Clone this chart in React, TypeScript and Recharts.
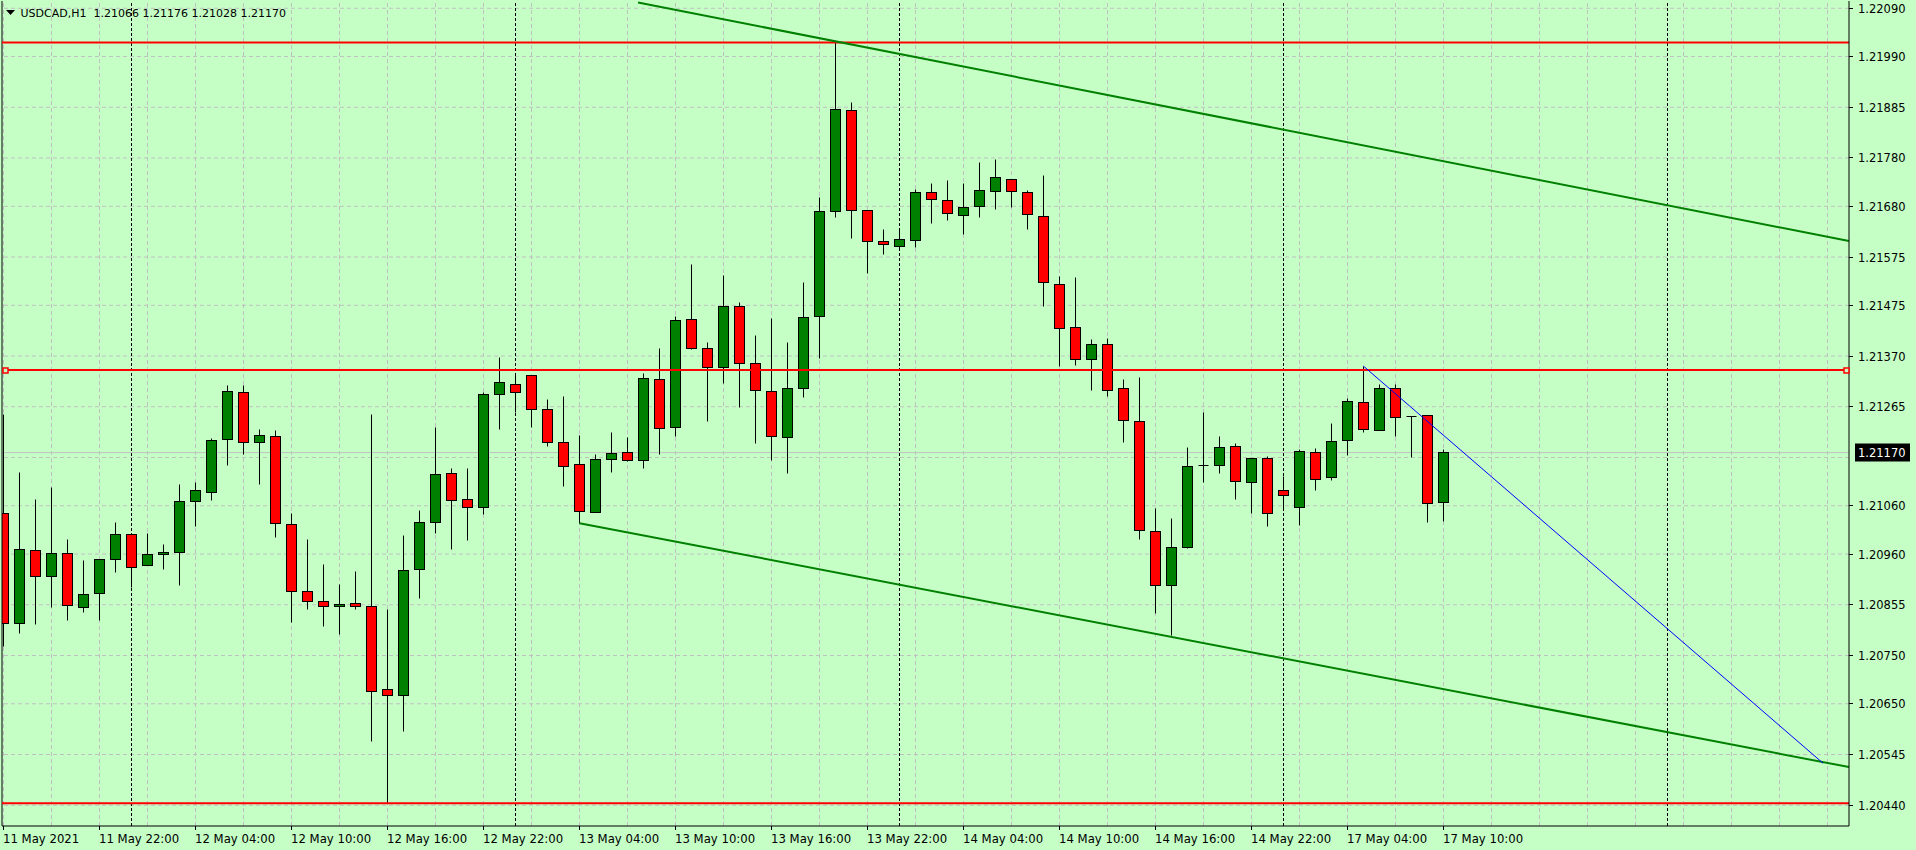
import { Bar, ComposedChart, ReferenceDot, ReferenceLine, XAxis, YAxis } from "recharts";

// USDCAD H1, bars 0..90 (11 May 16:00 -> 17 May 10:00)
const opens = [
  1.21045, 1.20816, 1.20968, 1.20913, 1.20961, 1.2085, 1.20878, 1.20949, 1.21001, 1.20937,
  1.20959, 1.20964, 1.21069, 1.21088, 1.21197, 1.21295, 1.2119, 1.21204, 1.21021, 1.20883,
  1.20862, 1.20852, 1.20858, 1.20852, 1.2068, 1.20667, 1.20928, 1.21026, 1.21127, 1.21073,
  1.21057, 1.21291, 1.21311, 1.2133, 1.2126, 1.21191, 1.21146, 1.21046, 1.21156, 1.21171,
  1.21154, 1.21322, 1.21222, 1.21446, 1.21386, 1.21347, 1.21473, 1.21355, 1.21297, 1.21202,
  1.21303, 1.21452, 1.2167, 1.21879, 1.21672, 1.21608, 1.21597, 1.2161, 1.21709, 1.21692,
  1.21661, 1.2168, 1.21711, 1.21736, 1.21709, 1.21659, 1.21519, 1.21429, 1.21363, 1.21394,
  1.21303, 1.21235, 1.21007, 1.20895, 1.20974, 1.21143, 1.21144, 1.21183, 1.21108, 1.21158,
  1.21092, 1.21057, 1.21171, 1.21119, 1.21195, 1.21274, 1.21216, 1.21303, 1.21245, 1.21247,
  1.21066,
];
const highs = [
  1.21248, 1.21129, 1.21073, 1.21098, 1.2099, 1.20947, 1.20949, 1.21026, 1.21001, 1.21003,
  1.20979, 1.21105, 1.21108, 1.212, 1.2131, 1.2131, 1.21217, 1.21215, 1.21045, 1.20991,
  1.20939, 1.20898, 1.20923, 1.21248, 1.20846, 1.20999, 1.2105, 1.21221, 1.21137, 1.21137,
  1.21295, 1.21366, 1.21333, 1.2133, 1.2128, 1.21287, 1.21206, 1.21166, 1.21212, 1.21202,
  1.21333, 1.21386, 1.21452, 1.2156, 1.21398, 1.21537, 1.21481, 1.21413, 1.21448, 1.21398,
  1.21523, 1.21699, 1.22019, 1.21895, 1.21672, 1.21632, 1.2163, 1.21715, 1.21728, 1.21734,
  1.21728, 1.21771, 1.21777, 1.21736, 1.21713, 1.21744, 1.21535, 1.21533, 1.21405, 1.21407,
  1.21322, 1.21326, 1.21055, 1.21034, 1.21181, 1.21254, 1.21204, 1.21189, 1.21158, 1.21162,
  1.21121, 1.21177, 1.21179, 1.21231, 1.21282, 1.21349, 1.21311, 1.21311, 1.21245, 1.21247,
  1.21176,
];
const lows = [
  1.20768, 1.20795, 1.20814, 1.2085, 1.20822, 1.2084, 1.20823, 1.20921, 1.2089, 1.20937,
  1.20927, 1.20894, 1.21017, 1.2107, 1.21143, 1.21166, 1.21105, 1.20994, 1.20818, 1.20845,
  1.20809, 1.20793, 1.20845, 1.20571, 1.20444, 1.20592, 1.20867, 1.21003, 1.20969, 1.20988,
  1.21041, 1.21217, 1.21253, 1.21222, 1.21182, 1.21099, 1.21024, 1.21046, 1.21128, 1.21152,
  1.21137, 1.21166, 1.21203, 1.21384, 1.21234, 1.21313, 1.21264, 1.21189, 1.21154, 1.21127,
  1.21285, 1.21364, 1.21657, 1.21613, 1.2154, 1.2158, 1.21592, 1.21594, 1.21645, 1.21651,
  1.21622, 1.21657, 1.21674, 1.21678, 1.21632, 1.21473, 1.21348, 1.21351, 1.21299, 1.21286,
  1.2119, 1.2099, 1.20836, 1.20791, 1.20972, 1.21108, 1.21127, 1.21073, 1.21044, 1.21017,
  1.21055, 1.21019, 1.21091, 1.21113, 1.21164, 1.21212, 1.21216, 1.21203, 1.2116, 1.21026,
  1.21028,
];
const closes = [
  1.20816, 1.2097, 1.20913, 1.20961, 1.20853, 1.20876, 1.20949, 1.21001, 1.20932, 1.20959,
  1.20964, 1.21069, 1.21092, 1.21195, 1.21297, 1.21191, 1.21206, 1.21024, 1.20882, 1.20862,
  1.20852, 1.20856, 1.20852, 1.20676, 1.20667, 1.20926, 1.21026, 1.21125, 1.21071, 1.21057,
  1.21291, 1.21316, 1.21295, 1.2126, 1.21191, 1.21142, 1.21048, 1.21156, 1.21168, 1.21154,
  1.21324, 1.2122, 1.21444, 1.21386, 1.21347, 1.21473, 1.21355, 1.21299, 1.21204, 1.21303,
  1.2145, 1.2167, 1.21881, 1.21672, 1.21608, 1.21601, 1.21612, 1.21709, 1.21695, 1.21666,
  1.21678, 1.21713, 1.2174, 1.21711, 1.21664, 1.21523, 1.21427, 1.21363, 1.21394, 1.21299,
  1.21237, 1.21009, 1.20895, 1.20974, 1.21142, 1.21143, 1.21181, 1.21111, 1.21158, 1.21044,
  1.21082, 1.21173, 1.21115, 1.21193, 1.21276, 1.21218, 1.21303, 1.21243, 1.21245, 1.21065,
  1.2117,
];

const timeTicks = [0, 6, 12, 18, 24, 30, 36, 42, 48, 54, 60, 66, 72, 78, 84, 90];
const timeLabels = [
  "11 May 2021", "11 May 22:00", "12 May 04:00", "12 May 10:00", "12 May 16:00", "12 May 22:00",
  "13 May 04:00", "13 May 10:00", "13 May 16:00", "13 May 22:00", "14 May 04:00", "14 May 10:00",
  "14 May 16:00", "14 May 22:00", "17 May 04:00", "17 May 10:00",
];
const daySeparators = [8, 32, 56, 80, 104];

const priceTicks = [
  1.2209, 1.2199, 1.21885, 1.2178, 1.2168, 1.21575, 1.21475, 1.2137, 1.21265,
  1.2106, 1.2096, 1.20855, 1.2075, 1.2065, 1.20545, 1.2044,
];
const priceGrid = [...priceTicks, 1.2116];
const bidPrice = 1.2117;

const levels = [1.22019, 1.21341, 1.20444];
const selectedLevel = 1.21341;
const upperTrend = [{ bar: 39.66, price: 1.22102 }, { bar: 115.34, price: 1.21608 }];
const lowerTrend = [{ bar: 36, price: 1.21024 }, { bar: 115.34, price: 1.20519 }];
const blueTrend = [{ bar: 85, price: 1.21349 }, { bar: 113.72, price: 1.20527 }];

const X_MIN = -0.09375;
const X_MAX = 115.34375;
const Y_MIN = 1.20397;
const Y_MAX = 1.22105;
const AXIS_X = 1849;
const AXIS_Y = 826;

const candles = opens.map((o, i) => ({
  i,
  o,
  h: highs[i],
  l: lows[i],
  c: closes[i],
  range: [lows[i], highs[i]],
}));

const gridBars: number[] = [];
for (let k = 0; k <= 114; k += 3) gridBars.push(k);

const crisp = (v: number) => Math.round(v - 0.5) + 0.5;

function Candle(props: any) {
  const { x, y, width, height, payload } = props;
  if (!payload || x == null) return null;
  const { o, h, l, c } = payload;
  const top = Math.min(y, y + height);
  const bot = Math.max(y, y + height);
  const ppu = h !== l ? (bot - top) / (h - l) : 0;
  const yOf = (p: number) => top + (h - p) * ppu;
  const cx = crisp(x + width / 2);
  const yTop = crisp(yOf(Math.max(o, c)));
  const yBot = crisp(yOf(Math.min(o, c)));
  return (
    <g>
      <line x1={cx} x2={cx} y1={crisp(top)} y2={crisp(bot)} stroke="#000" strokeWidth={1} />
      {o === c ? (
        <line x1={cx - 5} x2={cx + 5} y1={yTop} y2={yTop} stroke="#000" strokeWidth={1} />
      ) : (
        <rect
          x={cx - 5}
          y={yTop}
          width={10}
          height={Math.max(yBot - yTop, 1)}
          fill={c > o ? "#008000" : "#ff0000"}
          stroke="#000"
          strokeWidth={1}
        />
      )}
    </g>
  );
}

function TimeTick(props: any) {
  const { x, payload } = props;
  const idx = timeTicks.indexOf(payload.value);
  const tx = crisp(x);
  return (
    <g>
      <line x1={tx} x2={tx} y1={AXIS_Y} y2={AXIS_Y + 4} stroke="#000" />
      <text
        x={tx - 0.5}
        y={AXIS_Y + 12}
        dominantBaseline="central"
        textAnchor="start"
        fontFamily='"Liberation Sans Narrow", "DejaVu Sans Condensed", "Liberation Sans", sans-serif'
        fontSize={13}
        fill="#000"
      >
        {timeLabels[idx]}
      </text>
    </g>
  );
}

function PriceTick(props: any) {
  const { y, payload } = props;
  const v = payload.value;
  const ty = crisp(y);
  if (v === bidPrice) {
    return (
      <g>
        <rect x={AXIS_X + 6} y={ty - 9} width={55} height={18} fill="#000" />
        <text
          x={AXIS_X + 9}
          y={ty}
          dominantBaseline="central"
          fontFamily='"DejaVu Sans", sans-serif'
          fontSize={11.5}
          fill="#ffffff"
        >
          {v.toFixed(5)}
        </text>
      </g>
    );
  }
  return (
    <g>
      <line x1={AXIS_X} x2={AXIS_X + 4} y1={ty} y2={ty} stroke="#000" />
      <text
        x={AXIS_X + 9}
        y={ty}
        dominantBaseline="central"
        fontFamily='"DejaVu Sans", sans-serif'
        fontSize={11.5}
        fill="#000"
      >
        {v.toFixed(5)}
      </text>
    </g>
  );
}

const anchorSquare = (p: any) => (
  <rect x={crisp(p.cx) - 2.5} y={crisp(p.cy) - 2.5} width={5} height={5} fill="#c6ffc6" stroke="#ff0000" strokeWidth={1.5} />
);

export default function App() {
  return (
    <div style={{ position: "absolute", left: 0, top: 0, width: 1916, height: 850, background: "#c6ffc6", overflow: "hidden" }}>
      <ComposedChart width={1916} height={850} data={candles} margin={{ top: 1, right: 0, bottom: 0, left: 2 }}>
        <XAxis
          dataKey="i"
          type="number"
          domain={[X_MIN, X_MAX]}
          allowDataOverflow
          ticks={timeTicks}
          interval={0}
          tick={<TimeTick />}
          tickLine={false}
          axisLine={{ stroke: "#000" }}
          height={24}
        />
        <YAxis
          orientation="right"
          type="number"
          domain={[Y_MIN, Y_MAX]}
          allowDataOverflow
          ticks={[...priceTicks, bidPrice]}
          interval={0}
          tick={<PriceTick />}
          tickLine={false}
          axisLine={{ stroke: "#000" }}
          width={67}
        />
        {gridBars.map((k) => (
          <ReferenceLine key={"gv" + k} x={k} stroke="#c0c0c0" strokeDasharray="4 3" zIndex={-50} />
        ))}
        {priceGrid.map((p) => (
          <ReferenceLine key={"gh" + p} y={p} stroke="#c0c0c0" strokeDasharray="4 3" zIndex={-50} />
        ))}
        {daySeparators.map((k) => (
          <ReferenceLine key={"sep" + k} x={k} stroke="#000" strokeDasharray="3 2" zIndex={-40} />
        ))}
        <ReferenceLine y={bidPrice} stroke="#c0c0c0" zIndex={-40} />
        <ReferenceLine x={X_MIN} stroke="#000" />
        <Bar dataKey="range" barSize={11} shape={<Candle />} isAnimationActive={false} />
        {levels.map((p) => (
          <ReferenceLine key={"lvl" + p} y={p} stroke="#ff0000" strokeWidth={2} />
        ))}
        <ReferenceLine
          segment={[{ x: upperTrend[0].bar, y: upperTrend[0].price }, { x: upperTrend[1].bar, y: upperTrend[1].price }]}
          stroke="#008000"
          strokeWidth={2}
        />
        <ReferenceLine
          segment={[{ x: lowerTrend[0].bar, y: lowerTrend[0].price }, { x: lowerTrend[1].bar, y: lowerTrend[1].price }]}
          stroke="#008000"
          strokeWidth={2}
        />
        <ReferenceLine
          segment={[{ x: blueTrend[0].bar, y: blueTrend[0].price }, { x: blueTrend[1].bar, y: blueTrend[1].price }]}
          stroke="#0000ff"
          strokeWidth={1}
        />
        <ReferenceDot x={0.1} y={selectedLevel} shape={anchorSquare} />
        <ReferenceDot x={115.16} y={selectedLevel} shape={anchorSquare} />
      </ComposedChart>
      <svg width={320} height={22} style={{ position: "absolute", left: 0, top: 0 }}>
        <polygon points="6,10 15,10 10.5,15" fill="#000" />
        <text x={20.5} y={17.3} fontFamily='"DejaVu Sans", sans-serif' fontSize={11} fill="#000" style={{ whiteSpace: "pre" }}>
          {"USDCAD,H1  1.21066 1.21176 1.21028 1.21170"}
        </text>
      </svg>
    </div>
  );
}
